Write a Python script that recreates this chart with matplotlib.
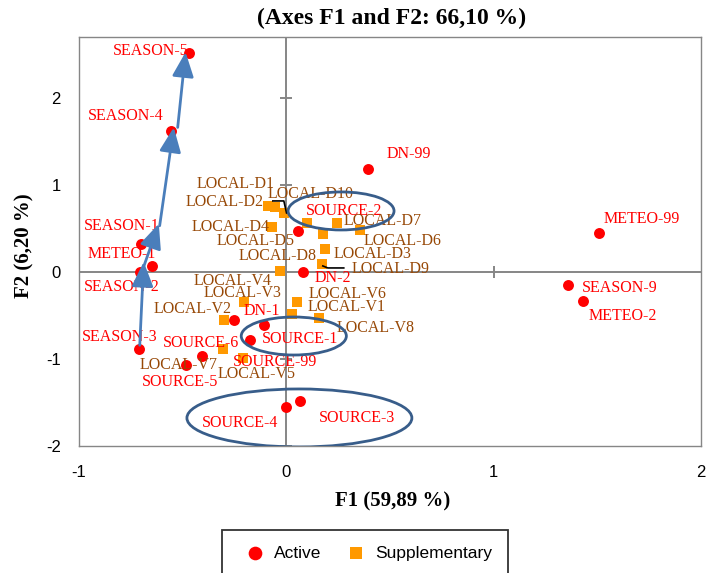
import matplotlib
matplotlib.use('Agg')
import matplotlib.pyplot as plt
from matplotlib.patches import Ellipse, FancyArrowPatch

plt.rcParams['axes.unicode_minus'] = False

# --- data ---
active_names = ['SEASON-5', 'SEASON-4', 'SEASON-1', 'METEO-1', 'SEASON-2', 'SEASON-3',
                'SOURCE-6', 'SOURCE-5', 'DN-1', 'SOURCE-1', 'SOURCE-99', 'DN-2',
                'SOURCE-2', 'DN-99', 'SOURCE-4', 'SOURCE-3', 'METEO-99', 'SEASON-9', 'METEO-2']
active_f1 = [-0.470, -0.557, -0.701, -0.648, -0.706, -0.711,
             -0.407, -0.484, -0.108, -0.253, -0.176, 0.080,
             0.055, 0.393, -0.002, 0.065, 1.506, 1.357, 1.429]
active_f2 = [2.517, 1.621, 0.322, 0.069, 0.005, -0.885,
             -0.966, -1.069, -0.609, -0.552, -0.782, -0.005,
             0.471, 1.184, -1.552, -1.483, 0.448, -0.149, -0.333]

supp_names = ['LOCAL-D1', 'LOCAL-D2', 'LOCAL-D10', 'LOCAL-D4', 'LOCAL-D5', 'LOCAL-D8',
              'LOCAL-D7', 'LOCAL-D6', 'LOCAL-D3', 'LOCAL-D9', 'LOCAL-V4', 'LOCAL-V3',
              'LOCAL-V2', 'LOCAL-V7', 'LOCAL-V5', 'LOCAL-V6', 'LOCAL-V1', 'LOCAL-V8']
supp_f1 = [-0.089, -0.055, -0.012, -0.070, 0.099, 0.176,
           0.243, 0.354, 0.186, 0.171, -0.031, -0.205,
           -0.301, -0.306, -0.210, 0.051, 0.027, 0.157]
supp_f2 = [0.759, 0.747, 0.678, 0.517, 0.563, 0.437,
           0.563, 0.483, 0.264, 0.092, 0.011, -0.345,
           -0.552, -0.885, -0.989, -0.345, -0.483, -0.529]

x_ticks = [-1, 0, 1, 2]
y_ticks = [-2, -1, 0, 1, 2]

# label offsets in pixels (dx right, dy down) from each point to label centre
active_off = [(-38, -2), (-45, -15), (-19, -18), (-30, -12), (-18, 15), (-19, -12),
              (-1, -13), (-6, 17), (-2, -14), (66, 19), (25, 22), (30, 6),
              (46, -20), (41, -15), (-46, 16), (57, 17), (43, -14), (52, 3), (40, 15)]
supp_off = [(-32, -22), (-50, -5), (27, -19), (-41, 0), (-51, 18), (-45, 22),
            (46, -2), (43, 11), (48, 5), (69, 5), (-47, 10), (-1, -9),
            (-31, -11), (-44, 16), (14, 16), (51, -8), (55, -7), (57, 10)]

# hand-drawn annotations: arrows along the seasons, group ellipses, leader lines
arrow_segs = [((-0.707, -0.842), (-0.688, 0.115)),
              ((-0.697, 0.0), (-0.615, 0.554)),
              ((-0.611, 0.531), (-0.543, 1.661)),
              ((-0.524, 1.661), (-0.486, 2.526))]
ellipses = [((0.063, -1.678), 1.085, 0.667),
            ((0.264, 0.701), 0.511, 0.437),
            ((0.036, -0.736), 0.507, 0.437)]
leaders = [([-0.065, -0.012, 0.001], [0.816, 0.816, 0.678]),
           ([0.176, 0.200, 0.277], [0.069, 0.046, 0.046])]

RED = '#FF0000'
ORANGE = '#FF9900'
BROWN = '#974806'
GRID = '#868686'
SERIF = 'Liberation Serif'
SANS = 'Liberation Sans'

fig = plt.figure(figsize=(7.08, 5.73), dpi=100)
ax = fig.add_axes([79/708, 1 - 446/573, 622/708, 409/573])
ax.set_xlim(-1, 2)
ax.set_ylim(-2, 2.7)

for s in ax.spines.values():
    s.set_color(GRID); s.set_linewidth(1.0)

ax.axhline(0, color=GRID, lw=1.4, zorder=1)
ax.axvline(0, color=GRID, lw=1.4, zorder=1)
ax.plot([t for t in x_ticks if t not in (-1, 0, 2)], [0], ls='none', marker='|',
        ms=9, mew=1.4, color=GRID, zorder=1)
ax.plot([0] * 4, [t for t in y_ticks if t != 0], ls='none', marker='_',
        ms=9, mew=1.4, color=GRID, zorder=1)

ax.set_xticks(x_ticks)
ax.set_yticks(y_ticks)
ax.tick_params(length=0, labelsize=12)
ax.tick_params(axis='x', pad=14)
ax.tick_params(axis='y', pad=13)
for lab in ax.get_xticklabels() + ax.get_yticklabels():
    lab.set_fontfamily(SANS)

sc_s = ax.scatter(supp_f1, supp_f2, marker='s', s=50, color=ORANGE, lw=0, zorder=3,
                  label='Supplementary')
sc_a = ax.scatter(active_f1, active_f2, marker='o', s=62, color=RED, lw=0, zorder=4,
                  label='Active')

k = 0.72  # px -> pt at 100 dpi
for name, x, y, (dx, dy) in zip(active_names, active_f1, active_f2, active_off):
    ax.annotate(name, (x, y), xytext=(dx * k, -dy * k), textcoords='offset points',
                ha='center', va='center', color=RED, fontsize=11.5, family=SERIF, zorder=5)
for name, x, y, (dx, dy) in zip(supp_names, supp_f1, supp_f2, supp_off):
    ax.annotate(name, (x, y), xytext=(dx * k, -dy * k), textcoords='offset points',
                ha='center', va='center', color=BROWN, fontsize=11.5, family=SERIF, zorder=5)

for xs, ys in leaders:
    ax.plot(xs, ys, color='black', lw=1.2, zorder=4)

for (cx, cy), w, h in ellipses:
    ax.add_patch(Ellipse((cx, cy), w, h, fill=False, ec='#385D8A', lw=2, zorder=6))

for start, end in arrow_segs:
    ax.add_patch(FancyArrowPatch(start, end, arrowstyle='-|>,head_length=0.75,head_width=0.33',
                                 mutation_scale=20, color='#4A7EBB', lw=2,
                                 shrinkA=0, shrinkB=0, zorder=6))

fig.text(392/708, 1 - 18/573, '(Axes F1 and F2: 66,10 %)', ha='center', va='center',
         fontsize=17, fontweight='bold', family=SERIF)
fig.text(393/708, 1 - 501/573, 'F1 (59,89 %)', ha='center', va='center',
         fontsize=15, fontweight='bold', family=SERIF)
fig.text(24/708, 1 - 246/573, 'F2 (6,20 %)', ha='center', va='center', rotation=90,
         fontsize=15, fontweight='bold', family=SERIF)

leg = fig.legend(handles=[sc_a, sc_s], loc='upper center', bbox_to_anchor=(365/708, 1 - 530/573),
                 ncol=2, frameon=True, fancybox=False, prop={'family': SANS, 'size': 12.5},
                 handletextpad=0.1, columnspacing=1.0, borderpad=0.9, markerscale=1.25,
                 borderaxespad=0)
leg.get_frame().set_edgecolor('black')
leg.get_frame().set_linewidth(1.3)

fig.savefig('out.png', dpi=100)
